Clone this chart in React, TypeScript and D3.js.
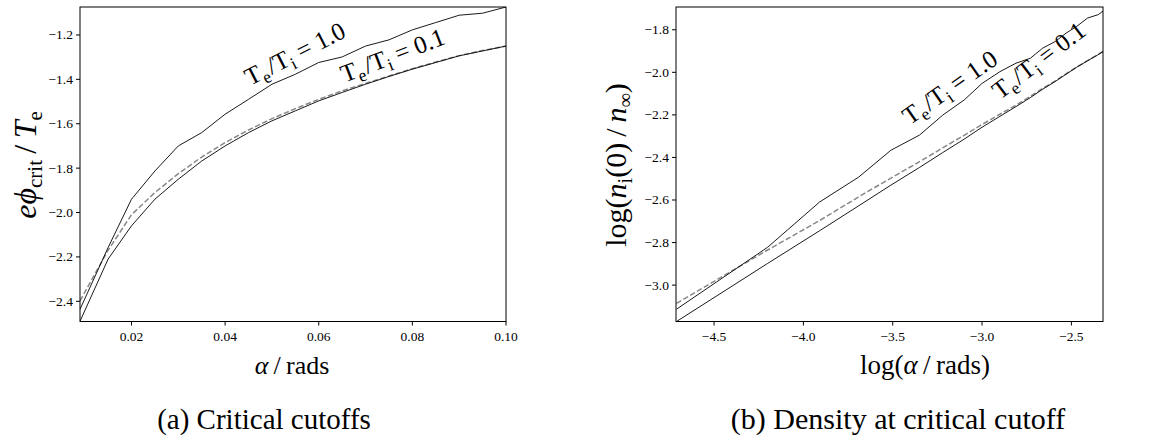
import React from "react";
import * as d3 from "d3";

// ---------- data ----------
const alphaA = [0.009, 0.015, 0.02, 0.025, 0.03, 0.035, 0.04, 0.045, 0.05, 0.055, 0.06, 0.065, 0.07, 0.075, 0.08, 0.085, 0.09, 0.095, 0.1];
const phiTe1 = [-2.436, -2.158, -1.94, -1.813, -1.7, -1.64, -1.557, -1.49, -1.422, -1.377, -1.324, -1.299, -1.25, -1.222, -1.177, -1.144, -1.111, -1.102, -1.074];
const phiTe01 = [-2.49, -2.21, -2.06, -1.94, -1.85, -1.768, -1.7, -1.64, -1.587, -1.542, -1.497, -1.459, -1.422, -1.387, -1.354, -1.324, -1.294, -1.272, -1.25];
const phiTheory = [-2.398, -2.17, -2.01, -1.91, -1.825, -1.75, -1.685, -1.628, -1.577, -1.532, -1.49, -1.452, -1.418, -1.385, -1.352, -1.322, -1.293, -1.27, -1.25];

const logAlphaB = [-4.71, -4.2, -3.91, -3.69, -3.51, -3.35, -3.22, -3.1, -3.0, -2.9, -2.81, -2.73, -2.66, -2.59, -2.53, -2.47, -2.41, -2.35, -2.3];
const logNTe1 = [-3.113, -2.822, -2.61, -2.492, -2.366, -2.295, -2.201, -2.13, -2.052, -1.997, -1.957, -1.934, -1.886, -1.855, -1.816, -1.784, -1.745, -1.729, -1.698];
const logNTe01 = [-3.171, -2.898, -2.745, -2.627, -2.53, -2.447, -2.377, -2.314, -2.258, -2.207, -2.161, -2.119, -2.079, -2.043, -2.009, -1.976, -1.946, -1.917, -1.89];
const logNTheory = [-3.086, -2.835, -2.697, -2.585, -2.497, -2.42, -2.355, -2.296, -2.245, -2.197, -2.154, -2.113, -2.075, -2.04, -2.007, -1.975, -1.945, -1.916, -1.889];

const xTicksA = [0.02, 0.04, 0.06, 0.08, 0.1];
const yTicksA = [-2.4, -2.2, -2.0, -1.8, -1.6, -1.4, -1.2];
const xTicksB = [-4.5, -4.0, -3.5, -3.0, -2.5];
const yTicksB = [-3.0, -2.8, -2.6, -2.4, -2.2, -2.0, -1.8];

const FONT = "Liberation Serif, DejaVu Serif, serif";

const minus = (s: string) => s.replace("-", "\u2212");

function Ratio({ x, y, angle, value, fs }: { x: number; y: number; angle: number; value: string; fs: number }) {
  return (
    <text transform={`translate(${x},${y}) rotate(${-angle})`} fontFamily={FONT} fontSize={fs}>
      T<tspan fontSize={fs * 0.7} dy={fs * 0.22}>e</tspan>
      <tspan dx={1.5} dy={-fs * 0.22}>/T</tspan>
      <tspan fontSize={fs * 0.7} dy={fs * 0.22}>i</tspan>
      <tspan dy={-fs * 0.22}>{` = ${value}`}</tspan>
    </text>
  );
}

function Panel({ x0, x1, y0, y1, xDomain, yDomain, xs, s1, s2, th, xTicks, yTicks, xFmt, yFmt, id, children }: any) {
  const x = d3.scaleLinear().domain(xDomain).range([x0, x1]);
  const y = d3.scaleLinear().domain(yDomain).range([y1, y0]);
  const line = (vals: number[]) =>
    d3.line<number>().x((_, i) => x(xs[i])).y((v) => y(v))(vals) || "";
  return (
    <g>
      <defs>
        <clipPath id={id}>
          <rect x={x0} y={y0} width={x1 - x0} height={y1 - y0} />
        </clipPath>
      </defs>
      <g clipPath={`url(#${id})`}>
        <path d={line(th)} fill="none" stroke="#888" strokeWidth={1.5} strokeDasharray="5.5,2.4" />
        <path d={line(s1)} fill="none" stroke="#000" strokeWidth={0.9} />
        <path d={line(s2)} fill="none" stroke="#000" strokeWidth={0.9} />
      </g>
      <rect x={x0} y={y0} width={x1 - x0} height={y1 - y0} fill="none" stroke="#000" strokeWidth={1} />
      {xTicks.map((t: number) => (
        <g key={"x" + t}>
          <line x1={x(t)} x2={x(t)} y1={y1} y2={y1 + 4} stroke="#000" strokeWidth={1} />
          <text x={x(t)} y={y1 + 19} textAnchor="middle" fontFamily={FONT} fontSize={13.5}>
            {minus(xFmt(t))}
          </text>
        </g>
      ))}
      {yTicks.map((t: number) => (
        <g key={"y" + t}>
          <line x1={x0 - 4} x2={x0} y1={y(t)} y2={y(t)} stroke="#000" strokeWidth={1} />
          <text x={x0 - 7} y={y(t) + 4.5} textAnchor="end" fontFamily={FONT} fontSize={13.5}>
            {minus(yFmt(t))}
          </text>
        </g>
      ))}
      {children(x, y)}
    </g>
  );
}

export default function App() {
  const fs = 25;
  return (
    <svg width={1162} height={448} style={{ position: "absolute", left: 0, top: 0, background: "#fff" }}>
      <Panel
        id="clipA"
        x0={80} x1={506} y0={7} y1={321.5}
        xDomain={[0.009, 0.1]} yDomain={[-2.491, -1.074]}
        xs={alphaA} s1={phiTe1} s2={phiTe01} th={phiTheory}
        xTicks={xTicksA} yTicks={yTicksA}
        xFmt={d3.format(".2f")} yFmt={d3.format(".1f")}
      >
        {(x: any, y: any) => (
          <g>
            <Ratio x={x(0.0453)} y={y(-1.43)} angle={27} value="1.0" fs={fs} />
            <Ratio x={x(0.0655)} y={y(-1.415)} angle={21} value="0.1" fs={fs} />
          </g>
        )}
      </Panel>
      <Panel
        id="clipB"
        x0={676} x1={1103} y0={7} y1={321.5}
        xDomain={[-4.713, -2.323]} yDomain={[-3.171, -1.693]}
        xs={logAlphaB} s1={logNTe1} s2={logNTe01} th={logNTheory}
        xTicks={xTicksB} yTicks={yTicksB}
        xFmt={d3.format(".1f")} yFmt={d3.format(".1f")}
      >
        {(x: any, y: any) => (
          <g>
            <Ratio x={x(-3.405)} y={y(-2.25)} angle={35} value="1.0" fs={fs} />
            <Ratio x={x(-2.9)} y={y(-2.13)} angle={37} value="0.1" fs={fs} />
          </g>
        )}
      </Panel>

      {/* axis labels */}
      <text x={292} y={374} textAnchor="middle" fontFamily={FONT} fontSize={26}>
        <tspan fontStyle="italic">α</tspan>{"\u2009/\u2009rads"}
      </text>
      <text x={925} y={374} textAnchor="middle" fontFamily={FONT} fontSize={27}>
        log(<tspan fontStyle="italic">α</tspan>{"\u2009/\u2009rads)"}
      </text>
      <text transform="translate(36,165) rotate(-90)" textAnchor="middle" fontFamily={FONT} fontSize={32}>
        <tspan fontStyle="italic">eϕ</tspan>
        <tspan fontSize={21} dy={6}>crit</tspan>
        <tspan dy={-6}>{"\u2009/\u2009"}</tspan>
        <tspan fontStyle="italic">T</tspan>
        <tspan fontSize={21} dy={6}>e</tspan>
      </text>
      <text transform="translate(626,165) rotate(-90)" textAnchor="middle" fontFamily={FONT} fontSize={30}>
        log(<tspan fontStyle="italic">n</tspan>
        <tspan fontSize={20} dy={6}>i</tspan>
        <tspan dy={-6}>{"(0)\u2009/\u2009"}</tspan>
        <tspan fontStyle="italic">n</tspan>
        <tspan fontSize={20} dy={6}>∞</tspan>
        <tspan dy={-6}>)</tspan>
      </text>

      {/* captions */}
      <text x={264} y={429} textAnchor="middle" fontFamily={FONT} fontSize={29}>
        (a) Critical cutoffs
      </text>
      <text x={898} y={429} textAnchor="middle" fontFamily={FONT} fontSize={30}>
        (b) Density at critical cutoff
      </text>
    </svg>
  );
}
